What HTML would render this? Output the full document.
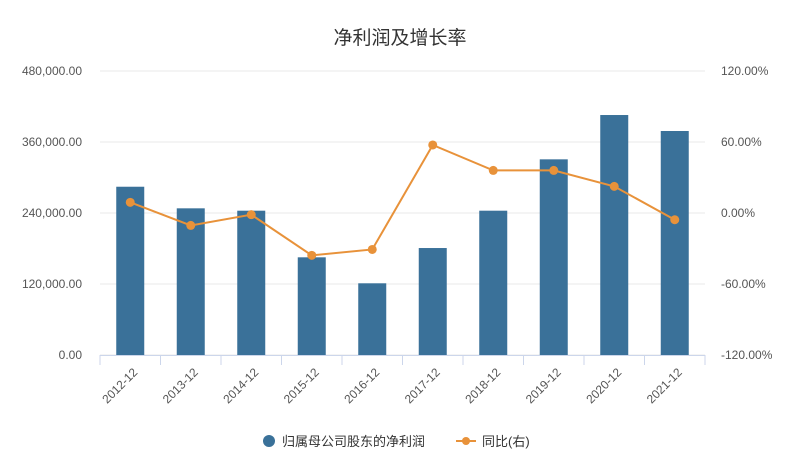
<!DOCTYPE html>
<html><head><meta charset="utf-8"><style>
body{margin:0;background:#fff;font-family:"Liberation Sans","Noto Sans CJK SC",sans-serif}
</style></head><body>
<svg id="c" width="800" height="461" xmlns="http://www.w3.org/2000/svg"
 font-family="Liberation Sans, Noto Sans CJK SC, sans-serif">
<text x="400" y="44" text-anchor="middle" font-size="19" fill="#333">净利润及增长率</text>
<g id="grid"></g><g id="bars"></g><g id="line"></g><g id="axes"></g>
<g>
<g><circle cx="269" cy="441" r="6" fill="#3a7199"/><text x="282" y="446" font-size="13" fill="#333">归属母公司股东的净利润</text></g>
<g><line x1="456" y1="441" x2="476" y2="441" stroke="#e8923a" stroke-width="2"/><circle cx="466" cy="441" r="4" fill="#e8923a"/><text x="482" y="446" font-size="13" fill="#333">同比(右)</text></g>
</g>
</svg>
<script>
const categories=["2012-12","2013-12","2014-12","2015-12","2016-12","2017-12","2018-12","2019-12","2020-12","2021-12"];
const profit=[284400,247900,243900,165100,121200,180800,243900,330700,405600,378600];
const yoy=[9.0,-10.5,-1.4,-35.8,-30.8,57.5,36.0,36.0,22.5,-5.7];
const leftTicks=[0,120000,240000,360000,480000];
const rightTicks=[-120,-60,0,60,120];
const NS="http://www.w3.org/2000/svg";
const X0=100,X1=705,Y0=355,Y1=71;
const band=(X1-X0)/categories.length;
const xc=i=>X0+band*(i+0.5);
const yL=v=>Y0-(v/480000)*(Y0-Y1);
const yR=v=>Y0-((v+120)/240)*(Y0-Y1);
function mk(t,a,p){const e=document.createElementNS(NS,t);for(const k in a)e.setAttribute(k,a[k]);p.appendChild(e);return e;}
const grid=document.getElementById('grid'),bars=document.getElementById('bars'),line=document.getElementById('line'),axes=document.getElementById('axes');
leftTicks.forEach((v,i)=>{
 const y=yL(v);
 const g=mk('line',{x1:X0,x2:X1,y1:y,y2:y,stroke:'#e8e8e8','stroke-width':1},grid);
 
 
 const t=mk('text',{x:82,y:y+4,'text-anchor':'end','font-size':12,fill:'#555'},axes);
 t.textContent=v.toLocaleString('en-US',{minimumFractionDigits:2});
 
 
});
rightTicks.forEach(v=>{
 const t=mk('text',{x:721,y:yR(v)+4,'font-size':12,fill:'#555'},axes);
 t.textContent=v.toFixed(2)+'%';
 
 
});
const ax=mk('line',{x1:X0,x2:X1,y1:Y0+0.5,y2:Y0+0.5,stroke:'#ccd6eb'},axes);


categories.forEach((c,i)=>{
 const tk=mk('line',{x1:X0+band*i,x2:X0+band*i,y1:Y0,y2:Y0+10,stroke:'#ccd6eb'},axes);
 
 
 const b=mk('rect',{x:xc(i)-14,y:yL(profit[i]),width:28,height:Y0-yL(profit[i]),fill:'#3a7199'},bars);
 
 
 const t=mk('text',{x:xc(i)+8,y:Y0+18,'text-anchor':'end','font-size':12,fill:'#555',transform:`rotate(-45 ${xc(i)+8} ${Y0+18})`},axes);
 t.textContent=c;
 
 
});
const tk=mk('line',{x1:X1,x2:X1,y1:Y0,y2:Y0+10,stroke:'#ccd6eb'},axes);


const pl=mk('polyline',{points:yoy.map((v,i)=>xc(i)+','+yR(v)).join(' '),fill:'none',stroke:'#e8923a','stroke-width':2},line);


yoy.forEach((v,i)=>{
 const p=mk('circle',{cx:xc(i),cy:yR(v),r:4.5,fill:'#e8923a'},line);
 
 
});
</script>
</body></html>
